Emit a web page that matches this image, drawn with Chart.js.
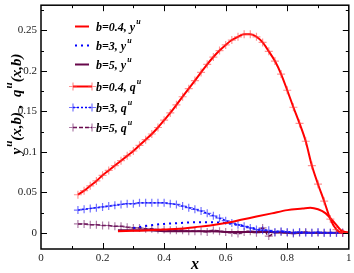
<!DOCTYPE html>
<html>
<head>
<meta charset="utf-8">
<script src="https://cdn.jsdelivr.net/npm/chart.js@4.4.1/dist/chart.umd.min.js"></script>
<style>
  html, body { margin: 0; padding: 0; background: #fff; }
  canvas { display: block; }
</style>
</head>
<body>
<canvas id="chart" width="354" height="273"></canvas>
<script>
// q^u series, sampled with markers
const xq = [0.12, 0.14, 0.16, 0.18, 0.20, 0.22, 0.24, 0.26, 0.28, 0.30, 0.32, 0.34, 0.36, 0.38, 0.40,
    0.42, 0.44, 0.46, 0.48, 0.50, 0.52, 0.54, 0.56, 0.58, 0.60, 0.62, 0.64, 0.66, 0.68, 0.70,
    0.72, 0.74, 0.76, 0.78, 0.80, 0.82, 0.84, 0.86, 0.88, 0.90, 0.92, 0.94, 0.96, 0.98, 1.00];
const qB04 = [0.047, 0.052, 0.058, 0.064, 0.071, 0.077, 0.083, 0.089, 0.095, 0.101, 0.108, 0.115, 0.122, 0.130, 0.139,
    0.148, 0.158, 0.168, 0.178, 0.188, 0.198, 0.208, 0.217, 0.225, 0.232, 0.238, 0.242, 0.245, 0.245, 0.242,
    0.235, 0.224, 0.212, 0.196, 0.176, 0.155, 0.135, 0.113, 0.083, 0.060, 0.039, 0.017, 0.004, 0.000, 0.000];
const qB3 = [0.028, 0.029, 0.030, 0.031, 0.032, 0.033, 0.034, 0.035, 0.036, 0.036, 0.037, 0.037, 0.037, 0.037, 0.037,
    0.036, 0.035, 0.033, 0.031, 0.029, 0.027, 0.024, 0.021, 0.018, 0.015, 0.012, 0.010, 0.008, 0.006, 0.004,
    0.003, 0.003, 0.001, 0.002, 0.001, 0.000, 0.001, 0.000, 0.000, 0.001, 0.000, 0.000, 0.000, 0.000, 0.000];
const qB5 = [0.011, 0.011, 0.010, 0.010, 0.009, 0.009, 0.008, 0.008, 0.007, 0.006, 0.006, 0.005, 0.005, 0.004, 0.004,
    0.003, 0.003, 0.003, 0.002, 0.002, 0.002, 0.001, 0.003, 0.002, 0.001, 0.000, -0.001, 0.001, 0.002, 0.000,
    0.006, -0.004, 0.000, 0.001, 0.000, -0.001, 0.000, 0.001, 0.000, 0.000, 0.000, 0.000, 0.000, 0.000, 0.000];

// y^u series, plain lines
const xyB04 = [0.25, 0.30, 0.35, 0.40, 0.45, 0.50, 0.55, 0.60, 0.65, 0.70, 0.75, 0.80, 0.85, 0.875, 0.90, 0.925, 0.95, 0.975, 1.00];
const yB04 = [0.002, 0.0025, 0.003, 0.004, 0.005, 0.007, 0.009, 0.012, 0.016, 0.020, 0.024, 0.028, 0.030, 0.031, 0.029, 0.024, 0.014, 0.003, 0.000];
const xyB3 = [0.30, 0.35, 0.40, 0.45, 0.50, 0.55, 0.60, 0.65, 0.70, 0.75, 0.80, 0.85, 0.90, 0.95, 1.00];
const yB3 = [0.006, 0.009, 0.011, 0.012, 0.013, 0.013, 0.012, 0.009, 0.005, 0.002, 0.001, 0.000, 0.000, 0.000, 0.000];
const xyB5 = [0.25, 0.30, 0.35, 0.40, 0.45, 0.50, 0.55, 0.60, 0.65, 0.70, 0.75, 0.80, 0.85, 0.90, 0.95, 1.00];
const yB5 = [0.003, 0.003, 0.003, 0.002, 0.002, 0.002, 0.002, 0.001, 0.001, 0.001, 0.001, 0.000, 0.000, 0.000, 0.000, 0.000];

const xTicks = [0, 0.2, 0.4, 0.6, 0.8, 1];
const yTicks = [0, 0.05, 0.1, 0.15, 0.2, 0.25];
const xMinor = [0.1, 0.3, 0.5, 0.7, 0.9];
const yMinor = [0.025, 0.075, 0.125, 0.175, 0.225, 0.275];

const RED = '#ff0000', BLUE = '#0000ff', MAROON = '#67074a';
const SERIF = '"Liberation Serif", "DejaVu Serif", serif';

const pts = (xs, ys) => xs.map((x, i) => ({x: x, y: ys[i]}));

// label text and superscript, kept apart so the "u" can be raised
const datasets = [
    {lab: ['b=0.4, y', 'u'], data: pts(xyB04, yB04), borderColor: RED, borderWidth: 2, pointRadius: 0, order: 1},
    {lab: ['b=3, y', 'u'], data: pts(xyB3, yB3), borderColor: BLUE, borderWidth: 2, borderDash: [2, 4], pointRadius: 0, order: 3},
    {lab: ['b=5, y', 'u'], data: pts(xyB5, yB5), borderColor: MAROON, borderWidth: 2, pointRadius: 0, order: 4},
    {lab: ['b=0.4, q', 'u'], data: pts(xq, qB04), borderColor: RED, borderWidth: 2, pointStyle: 'cross',
        pointRadius: 4, pointBorderColor: 'rgba(255,60,60,0.55)', pointBorderWidth: 1.2, order: 0},
    {lab: ['b=3, q', 'u'], data: pts(xq, qB3), borderColor: BLUE, borderWidth: 1.5, borderDash: [2, 2], pointStyle: 'cross',
        pointRadius: 4, pointBorderColor: 'rgba(40,40,255,0.65)', pointBorderWidth: 1.2, order: 2},
    {lab: ['b=5, q', 'u'], data: pts(xq, qB5), borderColor: MAROON, borderWidth: 1.5, borderDash: [4, 2], pointStyle: 'cross',
        pointRadius: 4, pointBorderColor: 'rgba(120,40,110,0.6)', pointBorderWidth: 1.2, order: 5}
].map(d => Object.assign({label: d.lab.join('^'), fill: false, cubicInterpolationMode: 'monotone', showLine: true}, d));

function superText(ctx, parts, x, y, size) {
    ctx.font = 'bold italic ' + size + 'px ' + SERIF;
    ctx.fillText(parts[0], x, y);
    let w = ctx.measureText(parts[0]).width;
    ctx.font = 'bold italic ' + Math.round(size * 0.7) + 'px ' + SERIF;
    ctx.fillText(parts[1], x + w + 1, y - size * 0.45);
    return w + 1 + ctx.measureText(parts[1]).width;
}

const decor = {
    id: 'decor',
    afterDraw(chart) {
        const ctx = chart.ctx, a = chart.chartArea,
            sx = chart.scales.x, sy = chart.scales.y;
        ctx.save();
        // frame
        ctx.strokeStyle = '#000';
        ctx.lineWidth = 1.5;
        ctx.strokeRect(a.left, a.top, a.right - a.left, a.bottom - a.top);
        // inward ticks on all sides
        ctx.lineWidth = 1;
        const tick = (vals, len) => {
            vals.forEach(v => {
                let px = Math.round(sx.getPixelForValue(v)) + 0.5;
                ctx.beginPath();
                ctx.moveTo(px, a.bottom); ctx.lineTo(px, a.bottom - len);
                ctx.moveTo(px, a.top); ctx.lineTo(px, a.top + len);
                ctx.stroke();
            });
        };
        const tickY = (vals, len) => {
            vals.forEach(v => {
                let py = Math.round(sy.getPixelForValue(v)) + 0.5;
                ctx.beginPath();
                ctx.moveTo(a.left, py); ctx.lineTo(a.left + len, py);
                ctx.moveTo(a.right, py); ctx.lineTo(a.right - len, py);
                ctx.stroke();
            });
        };
        tick(xTicks.slice(1, -1), 6);
        tick(xMinor, 3);
        tickY(yTicks, 6);
        tickY(yMinor, 3);

        // legend
        ctx.fillStyle = '#000';
        ctx.textBaseline = 'middle';
        ctx.textAlign = 'left';
        const rowsY = [26, 45, 64, 86, 107, 127];
        chart.data.datasets.forEach((d, i) => {
            let y = rowsY[i] + 0.5;
            let hasMarks = d.pointRadius > 0;
            let x0 = hasMarks ? 73 : 75, x1 = hasMarks ? 92 : 89;
            ctx.strokeStyle = d.borderColor;
            ctx.lineWidth = d.borderWidth;
            ctx.setLineDash(d.borderDash || []);
            ctx.beginPath();
            ctx.moveTo(x0, y); ctx.lineTo(x1, y);
            ctx.stroke();
            ctx.setLineDash([]);
            if (hasMarks) {
                ctx.strokeStyle = d.pointBorderColor;
                ctx.lineWidth = 1.2;
                [x0, x1].forEach(mx => {
                    ctx.beginPath();
                    ctx.moveTo(mx - 4, y); ctx.lineTo(mx + 4, y);
                    ctx.moveTo(mx, y - 4); ctx.lineTo(mx, y + 4);
                    ctx.stroke();
                });
            }
            ctx.fillStyle = '#000';
            superText(ctx, d.lab, 96, y + 1, 12);
        });

        // x axis title
        ctx.textAlign = 'center';
        ctx.font = 'bold italic 16px ' + SERIF;
        ctx.fillText('x', (a.left + a.right) / 2, 265);

        // y axis title, rotated
        ctx.translate(17, 104);
        ctx.rotate(-Math.PI / 2);
        ctx.textAlign = 'left';
        const segs = [['y', 'u'], ['(x,b) ,  q', 'u'], ['(x,b)', '']];
        let total = 0;
        segs.forEach(s => {
            ctx.font = 'bold italic 15px ' + SERIF;
            total += ctx.measureText(s[0]).width;
            ctx.font = 'bold italic 11px ' + SERIF;
            total += s[1] ? ctx.measureText(s[1]).width + 1 : 0;
        });
        let tx = -total / 2;
        segs.forEach(s => {
            ctx.font = 'bold italic 15px ' + SERIF;
            ctx.fillText(s[0], tx, 0);
            tx += ctx.measureText(s[0]).width;
            if (s[1]) {
                ctx.font = 'bold italic 11px ' + SERIF;
                ctx.fillText(s[1], tx + 1, -8);
                tx += ctx.measureText(s[1]).width + 1;
            }
        });
        ctx.restore();
    }
};

new Chart(document.getElementById('chart'), {
    type: 'scatter',
    data: {datasets: datasets},
    options: {
        responsive: false,
        animation: false,
        layout: {padding: {top: 0, right: 4, left: 0, bottom: 0}},
        plugins: {legend: {display: false}, tooltip: {enabled: false}},
        scales: {
            x: {
                type: 'linear', min: 0, max: 1,
                afterBuildTicks: s => { s.ticks = xTicks.map(v => ({value: v})); },
                afterFit: s => { s.height = 24; s.paddingLeft = 0; s.paddingRight = 0; },
                grid: {display: false, drawTicks: false},
                border: {display: false},
                ticks: {padding: 3, color: '#222', font: {family: SERIF, size: 11},
                    callback: v => String(v)}
            },
            y: {
                type: 'linear', min: -0.02, max: 0.281,
                afterBuildTicks: s => { s.ticks = yTicks.map(v => ({value: v})); },
                afterFit: s => { s.width = 41; s.paddingTop = 0; s.paddingBottom = 0; },
                grid: {display: false, drawTicks: false},
                border: {display: false},
                ticks: {padding: 4, color: '#222', font: {family: SERIF, size: 11},
                    callback: v => String(v)}
            }
        }
    },
    plugins: [decor]
});
</script>
</body>
</html>
